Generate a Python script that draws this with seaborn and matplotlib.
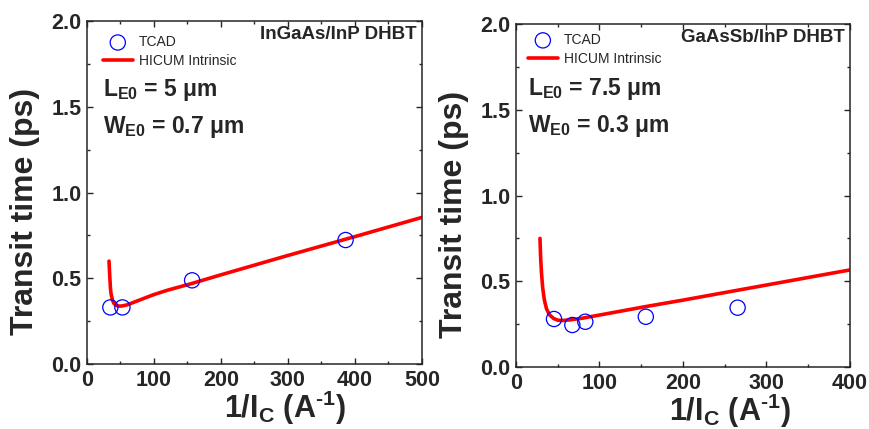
import matplotlib
matplotlib.use("Agg")
import matplotlib.pyplot as plt
import seaborn as sns

# -----------------------------
# Data
# -----------------------------
# InGaAs/InP DHBT
tcad_x_ingaas = [35, 53, 157, 386]
tcad_y_ingaas = [0.33, 0.33, 0.488, 0.723]
hicum_x_ingaas = [33, 34, 35, 36, 38, 40, 43, 47, 52, 60, 80, 100, 120, 157, 200, 300, 400, 500]
hicum_y_ingaas = [0.60, 0.52, 0.45, 0.41, 0.375, 0.355, 0.343, 0.338, 0.338, 0.345, 0.375, 0.405, 0.43, 0.47, 0.52, 0.633, 0.743, 0.855]

# GaAsSb/InP DHBT
tcad_x_gaassb = [45.5, 67.5, 83, 155.5, 265.5]
tcad_y_gaassb = [0.28, 0.245, 0.264, 0.293, 0.346]
hicum_x_gaassb = [28.7, 29.5, 30.5, 32, 34, 36.5, 40, 45, 50, 55, 65, 80, 100, 155, 200, 300, 400]
hicum_y_gaassb = [0.75, 0.64, 0.55, 0.46, 0.39, 0.34, 0.305, 0.283, 0.273, 0.271, 0.275, 0.285, 0.303, 0.352, 0.39, 0.478, 0.566]

sns.set_style("ticks")
plt.rcParams['font.family'] = ['Liberation Sans', 'DejaVu Sans']
plt.rcParams['mathtext.fontset'] = 'custom'
plt.rcParams['mathtext.bf'] = 'Liberation Sans:bold'
plt.rcParams['mathtext.rm'] = 'Liberation Sans:bold'
plt.rcParams['mathtext.default'] = 'bf'

fig = plt.figure(figsize=(8.69, 4.29), dpi=100)
ax1 = fig.add_axes([0.100, 0.1515, 0.3856, 0.7995])
ax2 = fig.add_axes([0.5938, 0.1445, 0.3842, 0.7995])

panels = [
    (ax1, tcad_x_ingaas, tcad_y_ingaas, hicum_x_ingaas, hicum_y_ingaas,
     "InGaAs/InP DHBT", "L$_{E0}$ = 5 μm", "W$_{E0}$ = 0.7 μm", 500,
     (0.048, 0.78, 0.673), (0.03, 0.975), 0.59),
    (ax2, tcad_x_gaassb, tcad_y_gaassb, hicum_x_gaassb, hicum_y_gaassb,
     "GaAsSb/InP DHBT", "L$_{E0}$ = 7.5 μm", "W$_{E0}$ = 0.3 μm", 400,
     (0.036, 0.793, 0.686), (0.018, 0.99), 0.64),
]

for ax, tx, ty, hx, hy, title, ltxt, wtxt, xmax, (tx0, ly, wy), leg_anchor, xlab_x in panels:
    sns.lineplot(x=hx, y=hy, ax=ax, color='red', lw=2.6, sort=False,
                 label='HICUM Intrinsic', zorder=2)
    sns.scatterplot(x=tx, y=ty, ax=ax, marker='o', s=120, facecolor='none',
                    edgecolor='blue', linewidth=0.9, label='TCAD', zorder=3)

    ax.set_xlim(0, xmax)
    ax.set_ylim(0, 2.0)
    ax.set_xticks(range(0, xmax + 1, 100))
    ax.set_xticks(range(50, xmax, 100), minor=True)
    ax.set_yticks([0.0, 0.5, 1.0, 1.5, 2.0])
    ax.set_yticks([0.25, 0.75, 1.25, 1.75], minor=True)
    ax.set_yticklabels(['0.0', '0.5', '1.0', '1.5', '2.0'])
    ax.tick_params(which='both', direction='in', top=True, right=True, width=1.0)
    ax.tick_params(which='major', length=4.5, labelsize=15.5, pad=4)
    ax.tick_params(which='minor', length=2.5)
    for lab in ax.get_xticklabels() + ax.get_yticklabels():
        lab.set_fontweight('bold')
    for sp in ax.spines.values():
        sp.set_linewidth(1.1)
        sp.set_visible(True)

    ax.set_xlabel(r"1/I$_{C}$ (A$^{\text{-1}}$)", fontsize=22, fontweight='bold')
    ax.xaxis.set_label_coords(xlab_x, -0.072)
    ax.set_ylabel("Transit time (ps)", fontsize=23, fontweight='bold')
    ax.yaxis.set_label_coords(-0.14, 0.445)

    ax.text(0.985, 0.985, title, transform=ax.transAxes, ha='right', va='top',
            fontsize=13.5, fontweight='bold')
    ax.text(tx0, ly, ltxt, transform=ax.transAxes, ha='left', va='baseline',
            fontsize=16.5, fontweight='bold')
    ax.text(tx0, wy, wtxt, transform=ax.transAxes, ha='left', va='baseline',
            fontsize=16.5, fontweight='bold')

    handles, labels = ax.get_legend_handles_labels()
    order = [labels.index('TCAD'), labels.index('HICUM Intrinsic')]
    ax.legend([handles[i] for i in order], [labels[i] for i in order],
              loc='upper left', bbox_to_anchor=leg_anchor, frameon=False,
              fontsize=10, handlelength=2.2, handletextpad=0.4,
              labelspacing=0.35, borderaxespad=0.0)

fig.savefig("out.png", dpi=100)
